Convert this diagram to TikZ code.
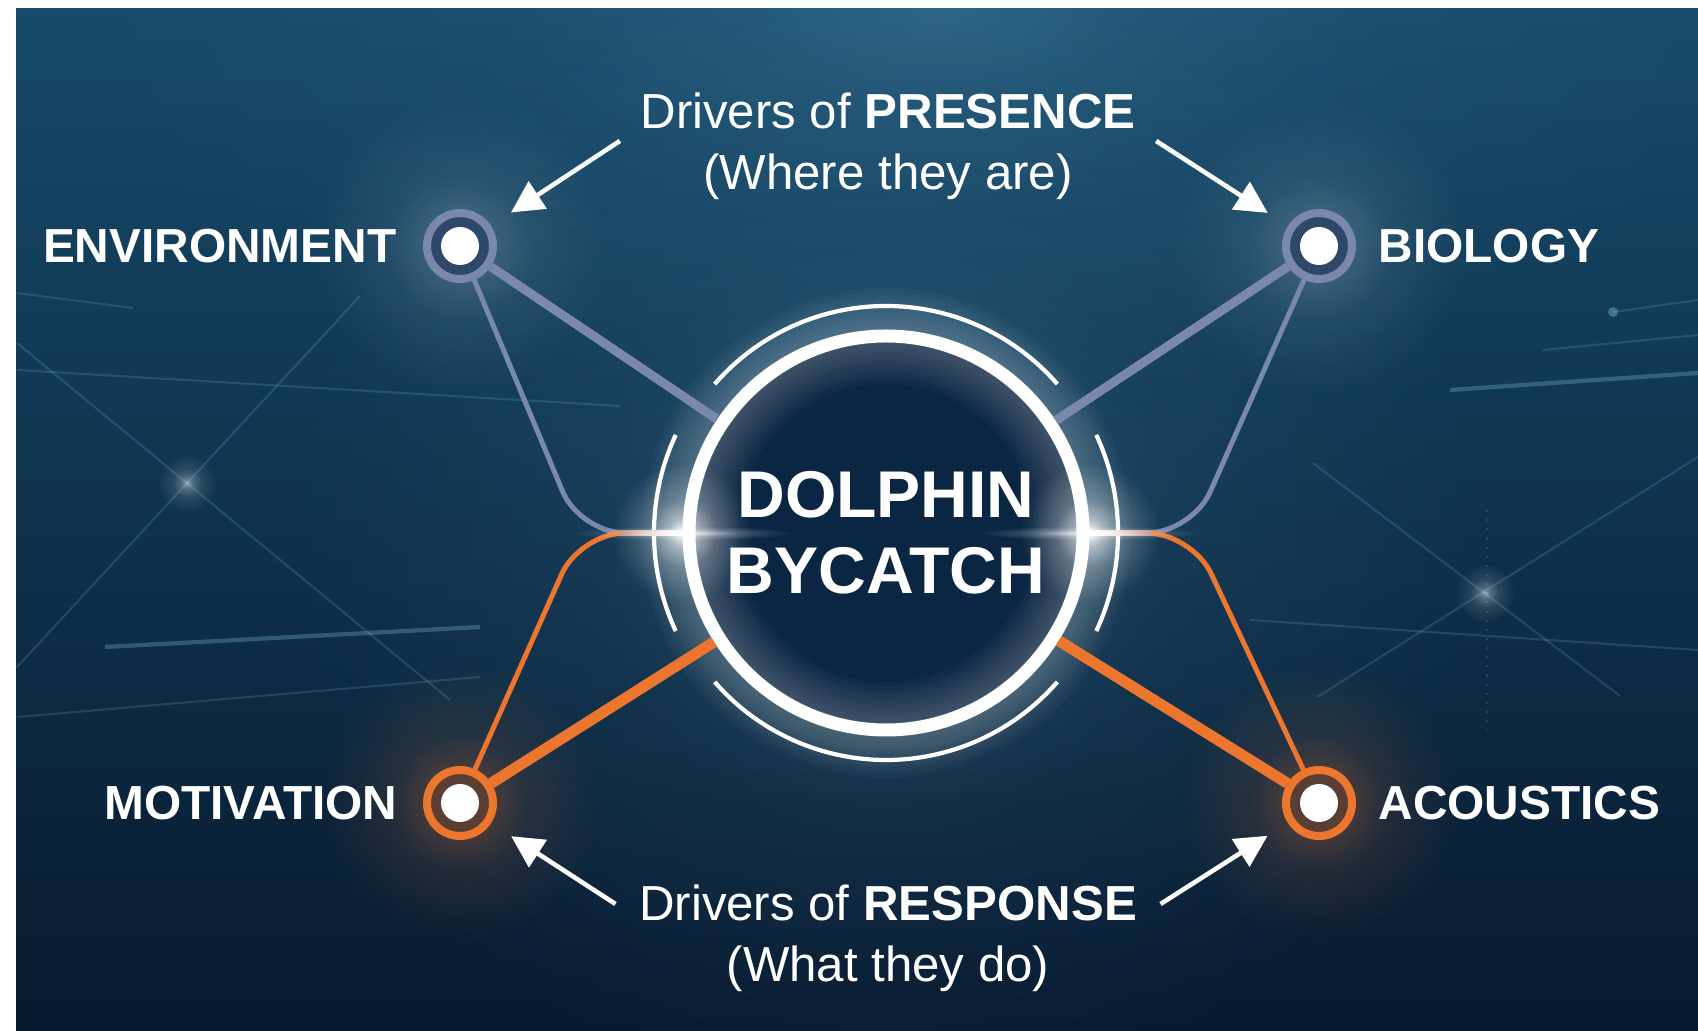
\documentclass[tikz,border=0pt]{standalone}
\usepackage{fontspec}
\setmainfont{Liberation Sans}
\usetikzlibrary{positioning,arrows.meta,fadings,calc}

\definecolor{bgtop}{RGB}{22,74,106}
\definecolor{bgmid}{RGB}{16,52,84}
\definecolor{bgbot}{RGB}{7,25,47}
\definecolor{corefill}{RGB}{11,38,66}
\definecolor{slate}{RGB}{122,136,174}
\definecolor{slatedk}{RGB}{46,72,106}
\definecolor{amber}{RGB}{236,118,46}
\definecolor{amberdk}{RGB}{90,62,52}
\definecolor{haze}{RGB}{130,195,230}

% soft radial falloff for the glows
\pgfdeclareradialshading{glowshade}{\pgfpointorigin}{color(0bp)=(pgftransparent!0);
  color(5bp)=(pgftransparent!45); color(12bp)=(pgftransparent!78);
  color(25bp)=(pgftransparent!100); color(50bp)=(pgftransparent!100)}
\pgfdeclarefading{glow}{\pgfuseshading{glowshade}}

\begin{document}
\begin{tikzpicture}[
  pres/.style={circle,draw=slate,fill=slatedk,line width=0.08cm,
    minimum size=0.66cm,inner sep=0pt,
    path picture={\fill[white] (path picture bounding box.center) circle (0.19);}},
  resp/.style={pres,draw=amber,fill=amberdk},
  lbl/.style={text=white,inner sep=0pt,font=\bfseries\fontsize{13.6}{16}\selectfont},
  drv/.style={text=white,inner sep=0pt,align=center,font=\fontsize{14}{17.3}\selectfont},
  core/.style={circle,draw=white,fill=corefill,line width=0.13cm,minimum size=3.94cm,
    inner sep=0pt,text=white,align=center,font=\bfseries\fontsize{18.8}{21.6}\selectfont},
  spoke/.style={line width=0.09cm},
  branch/.style={line width=0.05cm,rounded corners=0.45cm},
  ptr/.style={draw=white,line width=1.3pt,-{Triangle[length=3.2mm,width=3.2mm]},shorten >=0.24cm},
  faint/.style={draw=haze,opacity=0.18,line width=0.6pt},
  streak/.style={draw=haze,opacity=0.3,line width=1.2pt}
]
\useasboundingbox (0,0) rectangle (16.98,10.31);
%backdrop
\fill[white] (0,0) rectangle (16.98,10.31);
\begin{scope}
  \clip (0.16,0) rectangle (16.98,10.22);
  \shade[top color=bgtop,middle color=bgmid,bottom color=bgbot] (0.16,0) rectangle (16.98,10.22);
  \fill[haze,opacity=0.22,path fading=glow] (9.4,10.22) ellipse (9 and 4);
  %left lines
  \draw[faint] (0.17,7.38) -- (1.33,7.23);
  \draw[faint] (0.17,6.61) -- (6.2,6.25);
  \draw[faint] (0.17,6.88) -- (4.5,3.31);
  \draw[faint] (0.17,3.64) -- (3.6,7.35);
  \draw[faint] (0.17,3.14) -- (4.8,3.54);
  \draw[streak] (1.05,3.84) -- (4.8,4.04);
  \fill[white,opacity=0.5,path fading=glow] (1.87,5.48) circle (0.3);
  %right lines
  \draw[faint] (16.13,7.19) -- (16.98,7.31);
  \fill[haze,opacity=0.4] (16.13,7.19) circle (0.05);
  \draw[faint] (15.43,6.81) -- (16.98,6.96);
  \draw[streak] (14.5,6.41) -- (16.98,6.58);
  \draw[faint] (13.13,5.68) -- (16.2,3.35);
  \draw[faint] (13.17,3.34) -- (16.98,5.74);
  \draw[faint] (12.5,4.11) -- (16.98,3.81);
  \draw[faint,dotted] (14.87,5.21) -- (14.87,3.01);
  \fill[white,opacity=0.5,path fading=glow] (14.85,4.38) circle (0.3);
\end{scope}

\coordinate (c) at (8.86,4.98);
\coordinate (kl) at (5.80,4.98);
\coordinate (kr) at (11.92,4.98);

%halos
\fill[haze,opacity=0.3,path fading=glow] (c) circle (6);
\foreach \p in {(4.60,7.85),(13.19,7.85)}
  \fill[white,opacity=0.3,path fading=glow] \p circle (1.5);
\foreach \p in {(4.60,2.28),(13.19,2.28)}
  \fill[amber,opacity=0.5,path fading=glow] \p circle (1.4);

%centre
\node[core] (core) at (c) {DOLPHIN\\BYCATCH};
\foreach \i in {1,...,12}
  \draw[white,opacity=0.022,line width=0.08*\i cm] (c) circle (1.97);
\foreach \a/\b/\r in {41/139/2.27,221/319/2.27,155/205/2.32,-25/25/2.32}
  \draw[white,line width=1.2pt] (c) ++(\a:\r) arc[start angle=\a,end angle=\b,radius=\r];

%dots
\node[pres] (env) at (4.60,7.85) {};
\node[pres] (bio) at (13.19,7.85) {};
\node[resp] (mot) at (4.60,2.28) {};
\node[resp] (aco) at (13.19,2.28) {};

%links
\draw[slate,spoke] (env) -- (core);
\draw[slate,spoke] (bio) -- (core);
\draw[amber,spoke,line width=0.11cm] (mot) -- (core);
\draw[amber,spoke,line width=0.11cm] (aco) -- (core);
\draw[slate,branch] (env) -- (kl) -- (core);
\draw[slate,branch] (bio) -- (kr) -- (core);
\draw[amber,branch] (mot) -- (kl) -- (core);
\draw[amber,branch] (aco) -- (kr) -- (core);
\shade[left color=slate!50!amber,right color=white] ($(kl)+(0.4,-0.028)$) rectangle ([yshift=0.28mm]core.west);
\shade[right color=slate!50!amber,left color=white] ([yshift=-0.28mm]core.east) rectangle ($(kr)+(-0.4,0.028)$);
\foreach \s in {west,east}{
  \fill[white,path fading=glow] (core.\s) circle (0.7);
  \fill[white,path fading=glow] (core.\s) ellipse (1.1 and 0.07);
}

%labels
\node[lbl,left=0.26cm of env] {ENVIRONMENT};
\node[lbl,right=0.22cm of bio] {BIOLOGY};
\node[lbl,left=0.25cm of mot] {MOTIVATION};
\node[lbl,right=0.22cm of aco] {ACOUSTICS};

\node[drv] (presence) at (8.88,8.85) {Drivers of \textbf{PRESENCE}\\(Where they are)};
\node[drv] (response) at (8.88,0.93) {Drivers of \textbf{RESPONSE}\\(What they do)};

\draw[ptr] ([xshift=-2mm,yshift=0.5mm]presence.west) -- (env);
\draw[ptr] ([xshift=2mm,yshift=0.5mm]presence.east) -- (bio);
\draw[ptr] ([xshift=-2.3mm,yshift=3.4mm]response.west) -- (mot);
\draw[ptr] ([xshift=2.3mm,yshift=3.4mm]response.east) -- (aco);
\end{tikzpicture}
\end{document}
